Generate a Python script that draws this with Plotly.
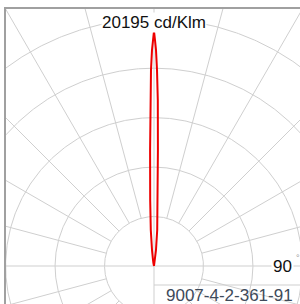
import numpy as np
import plotly.graph_objects as go

# ---- data ----
PEAK_LABEL = "20195 cd/Klm"
CODE_LABEL = "9007-4-2-361-91"
ANGLE_LABEL = "90"
ANGLES_DEG = [0, 0.25, 0.53, 0.88, 1.31, 1.93, 3.3, 5.1, 7.1, 9.5, 12, 15, 20, 30, 90]
INTENSITY = [20195, 19422, 18563, 16845, 14267, 9973, 5681, 3106, 1386, 523, 250, 120, 40, 0, 0]
RING_VALUES = [4250, 8500, 12750, 17000, 21250]
SPOKE_STEP_DEG = 15

# ---- scale (px per cd/klm) ----
K = 235 / 20195.0
CX, CY = 154, 266          # pole position in pixels
L, T, W, H = 6, 9, 300, 304

def px_to_x(px):
    return (px - CX) / K

def py_to_y(py):
    return (CY - py) / K

fig = go.Figure()

grid_col = "#cfcfcf"
# rings
t = np.linspace(0, 2 * np.pi, 721)
for rv in RING_VALUES:
    fig.add_trace(go.Scatter(x=rv * np.sin(t), y=rv * np.cos(t), mode="lines",
                             line=dict(color=grid_col, width=1), hoverinfo="skip", showlegend=False))
# spokes
far = 60000
for a in range(0, 360, SPOKE_STEP_DEG):
    r0 = 0 if a % 90 == 0 else RING_VALUES[0]
    ar = np.radians(a)
    fig.add_trace(go.Scatter(x=[r0 * np.sin(ar), far * np.sin(ar)],
                             y=[r0 * np.cos(ar), far * np.cos(ar)], mode="lines",
                             line=dict(color=grid_col, width=1), hoverinfo="skip", showlegend=False))

# intensity curve (mirrored)
ang = np.array(ANGLES_DEG, dtype=float)
inten = np.array(INTENSITY, dtype=float)
full_ang = np.concatenate([-ang[::-1], ang[1:]])
full_i = np.concatenate([inten[::-1], inten[1:]])
ar = np.radians(full_ang)
fig.add_trace(go.Scatter(x=full_i * np.sin(ar), y=full_i * np.cos(ar), mode="lines",
                         line=dict(color="#ee0000", width=2), hoverinfo="skip", showlegend=False))

# label box top line
fig.add_shape(type="line", xref="x", yref="y", x0=0, x1=far, y0=py_to_y(285), y1=py_to_y(285),
              line=dict(color=grid_col, width=1))

font = "Liberation Sans, Arial, sans-serif"
fig.add_annotation(x=0, y=py_to_y(22), xref="x", yref="y", text=PEAK_LABEL, showarrow=False,
                   xanchor="center", yanchor="middle", bgcolor="white", borderpad=0,
                   font=dict(family=font, size=17, color="#111111"))
fig.add_annotation(x=px_to_x(294), y=py_to_y(266), xref="x", yref="y", text=ANGLE_LABEL, showarrow=False,
                   xanchor="right", yanchor="middle", bgcolor="white", borderpad=1,
                   font=dict(family=font, size=17, color="#111111"))
fig.add_annotation(x=px_to_x(294), y=py_to_y(258), xref="x", yref="y", text="°", showarrow=False,
                   xanchor="left", yanchor="middle",
                   font=dict(family=font, size=9, color="#999999"))
fig.add_annotation(x=px_to_x(164), y=py_to_y(295), xref="x", yref="y", text=CODE_LABEL, showarrow=False,
                   xanchor="left", yanchor="middle",
                   font=dict(family=font, size=17, color="#3e4a5a"))

fig.update_layout(
    width=W, height=H,
    margin=dict(l=L, t=T, r=0, b=0, pad=0),
    paper_bgcolor="white", plot_bgcolor="white",
    xaxis=dict(range=[px_to_x(L), px_to_x(W)], showgrid=False, zeroline=False, showticklabels=False,
               showline=True, side="top", linecolor="#a0a0a0", linewidth=2, ticks=""),
    yaxis=dict(range=[py_to_y(H), py_to_y(T)], showgrid=False, zeroline=False, showticklabels=False,
               showline=True, linecolor="#a0a0a0", linewidth=2, ticks=""),
)
fig.write_html("out.html", config={"displayModeBar": False},
               post_script="document.body.style.margin='0';document.body.style.overflow='hidden';")
